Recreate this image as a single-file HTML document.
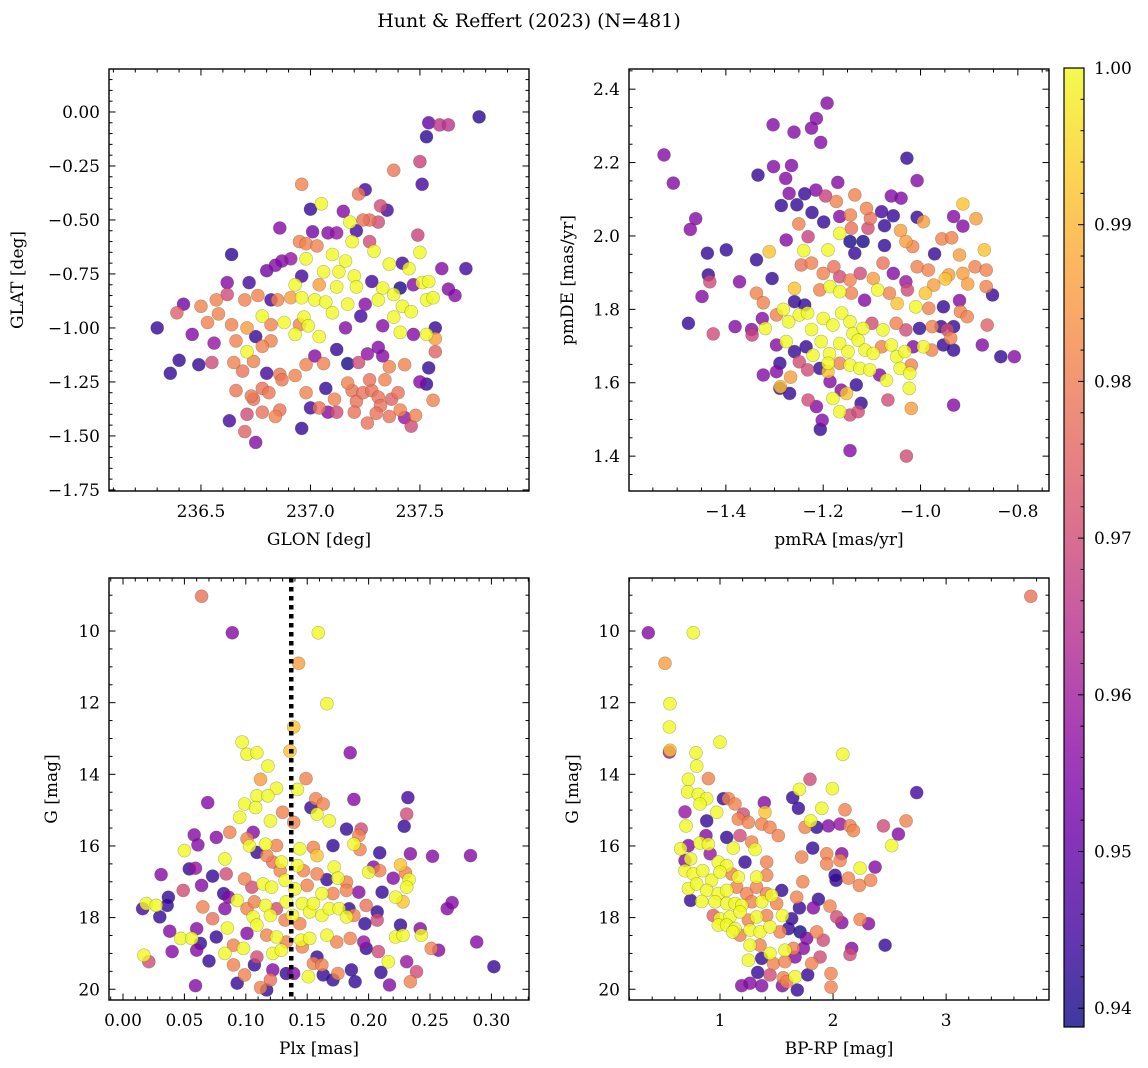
<!DOCTYPE html>
<html><head><meta charset="utf-8">
<style>
html,body{margin:0;padding:0;background:#fff;}
svg{display:block;font-family:"DejaVu Serif","Liberation Serif",serif;}
</style></head>
<body>
<svg id="fig" width="1148" height="1068" viewBox="0 0 1148 1068" xmlns="http://www.w3.org/2000/svg">
<defs>
<linearGradient id="plasma" x1="0" y1="1" x2="0" y2="0">
<stop offset="0" stop-color="#0d0887"/><stop offset="0.1" stop-color="#41049d"/><stop offset="0.2" stop-color="#6a00a8"/><stop offset="0.3" stop-color="#8f0da4"/><stop offset="0.4" stop-color="#b12a90"/><stop offset="0.5" stop-color="#cc4778"/><stop offset="0.6" stop-color="#e16462"/><stop offset="0.7" stop-color="#f2844b"/><stop offset="0.8" stop-color="#fca636"/><stop offset="0.9" stop-color="#fcce25"/><stop offset="1" stop-color="#f0f921"/>
</linearGradient>
</defs>
<text x="529" y="27" font-size="19" text-anchor="middle">Hunt &amp; Reffert (2023) (N=481)</text>
</svg>
<script>
// ---- Panel 1: GLON vs GLAT ----
const glon = [237.77,237.54,237.59,237.63,237.53,237.50,237.51,237.38,236.96,237.25,
237.22,237.05,237.0,237.15,237.32,237.35,237.24,237.27,237.31,237.18,
236.86,237.21,237.01,237.08,237.12,237.19,237.27,237.49,236.95,236.98,
237.03,236.64,236.98,237.1,237.16,237.29,237.5,237.36,237.42,237.45,
237.6,237.71,236.8,236.84,236.87,236.91,237.06,237.13,237.2,236.96,
237.28,236.62,236.72,236.93,237.04,237.12,237.21,237.33,237.41,237.51,
237.54,237.63,237.66,237.47,236.42,236.39,236.5,236.57,236.62,236.7,
236.76,236.82,236.85,236.91,236.96,237.02,237.07,237.17,237.25,237.31,
237.38,237.42,237.46,237.53,237.56,236.3,236.46,236.53,236.58,236.64,
236.71,236.78,236.82,236.88,236.93,236.97,236.99,237.04,237.1,237.16,
237.23,237.33,237.38,237.41,237.47,237.53,237.57,237.57,237.57,236.56,
236.66,236.71,236.75,236.82,236.78,236.95,236.4,236.36,236.49,236.55,
236.65,236.69,236.74,236.8,236.86,236.93,236.98,237.02,237.06,237.12,
237.17,237.22,237.26,237.31,237.33,237.36,237.43,237.54,237.5,237.53,
237.56,236.66,236.73,236.78,236.81,236.87,236.86,236.78,236.74,236.84,
236.71,236.63,236.7,236.75,236.96,236.98,237.0,237.04,237.08,237.07,
237.11,237.12,237.17,237.19,237.21,237.2,237.26,237.24,237.28,237.31,
237.27,237.34,237.32,237.37,237.41,237.3,237.46,237.48,237.43,237.4,237.36];
const glat = [-0.023,-0.05,-0.06,-0.06,-0.115,-0.23,-0.335,-0.27,-0.335,-0.36,
-0.38,-0.425,-0.45,-0.46,-0.435,-0.455,-0.5,-0.5,-0.51,-0.51,
-0.537,-0.55,-0.555,-0.56,-0.56,-0.6,-0.6,-0.57,-0.6,-0.61,
-0.62,-0.66,-0.68,-0.66,-0.69,-0.645,-0.65,-0.705,-0.7,-0.725,
-0.725,-0.725,-0.735,-0.71,-0.69,-0.68,-0.74,-0.74,-0.76,-0.76,
-0.785,-0.79,-0.79,-0.8,-0.8,-0.81,-0.81,-0.815,-0.815,-0.79,
-0.785,-0.82,-0.85,-0.8,-0.89,-0.93,-0.9,-0.87,-0.845,-0.87,
-0.85,-0.87,-0.87,-0.86,-0.86,-0.87,-0.88,-0.89,-0.89,-0.87,
-0.845,-0.9,-0.925,-0.87,-0.86,-1.0,-1.03,-0.975,-0.935,-0.985,
-1.0,-0.945,-0.985,-0.975,-1.03,-0.95,-0.99,-1.04,-0.93,-1.0,
-0.945,-0.99,-0.95,-1.02,-1.03,-1.03,-1.0,-1.05,-1.11,-1.07,
-1.06,-1.11,-1.04,-1.06,-1.085,-0.985,-1.15,-1.21,-1.17,-1.16,
-1.16,-1.2,-1.155,-1.21,-1.215,-1.22,-1.17,-1.13,-1.165,-1.1,
-1.165,-1.16,-1.12,-1.09,-1.13,-1.18,-1.17,-1.185,-1.25,-1.26,
-1.335,-1.29,-1.315,-1.28,-1.3,-1.24,-1.38,-1.39,-1.33,-1.41,
-1.4,-1.43,-1.48,-1.53,-1.465,-1.3,-1.37,-1.37,-1.39,-1.28,
-1.33,-1.39,-1.255,-1.29,-1.34,-1.39,-1.44,-1.3,-1.29,-1.32,
-1.24,-1.24,-1.36,-1.33,-1.38,-1.395,-1.455,-1.405,-1.415,-1.3,-1.41];
const probA = [.942,.95,.965,.965,.942,.968,.945,.979,.981,.945,
.979,1,.943,.955,.97,.945,.978,.977,.97,1,
.955,.945,.952,.955,.958,1,.97,.968,.981,.981,
.981,.942,1,1,1,1,1,1,.945,1,
.955,.945,.952,.955,.955,.958,1,1,1,.945,
.945,.955,.945,1,.986,1,1,1,.94,1,
1,.955,.955,.955,.952,.975,.981,.981,.97,.981,
.981,.945,.981,.986,1,1,1,1,.955,1,
1,1,1,1,1,.943,.955,.981,.981,.981,
.986,1,.981,1,1,1,1,1,1,.955,
.945,.955,1,1,.955,1,.943,.986,.975,.958,
.981,1,.943,.981,.981,.981,.943,.943,.943,.97,
.981,.978,.981,.945,.979,.981,.981,.955,.981,.943,
.94,.97,.957,.955,.955,.981,.981,.943,.955,.943,
.981,.979,.979,.978,.979,.979,.978,.978,.978,.981,
.97,.945,.975,.955,.943,.981,.945,.978,.955,.943,
.981,.97,.981,.978,.978,.978,.978,.978,.978,.978,
.978,.981,.978,.975,.981,.978,.97,.981,.958,.978,.978];

// ---- Panel 2: pmRA vs pmDE ----
const pmra = [-1.192,-1.214,-1.224,-1.26,-1.303,-1.205,-1.028,-1.527,-1.508,-1.302,
-1.265,-1.334,-1.277,-1.27,-1.238,-1.17,-1.007,-1.215,-1.195,-1.286,
-1.254,-1.173,-1.135,-1.111,-1.06,-1.04,-1.223,-0.913,-0.886,-1.462,
-1.473,-1.166,-1.144,-1.103,-1.08,-1.056,-1.007,-0.994,-0.932,-0.913,
-1.25,-1.199,-1.166,-1.142,-1.108,-1.074,-1.041,-1.276,-1.231,-1.145,
-1.118,-1.074,-1.03,-0.956,-0.936,-1.016,-1.438,-1.399,-1.311,-1.337,
-1.24,-1.19,-1.135,-0.971,-0.869,-0.92,-1.436,-1.433,-1.372,-1.305,
-1.449,-1.337,-1.323,-1.245,-1.224,-1.2,-1.178,-1.166,-1.145,-1.124,
-1.097,-1.077,-1.056,-1.03,-1.007,-0.984,-0.942,-0.913,-0.888,-0.865,
-0.903,-0.865,-0.949,-0.973,-0.99,-0.852,-0.92,-1.259,-1.259,-1.238,
-1.207,-1.186,-1.166,-1.142,-1.115,-1.088,-1.064,-1.048,-1.027,-1.01,
-0.983,-0.953,-0.918,-0.904,-0.863,-1.477,-1.426,-1.381,-1.347,-1.346,
-1.325,-1.319,-1.296,-1.282,-1.271,-1.249,-1.232,-1.224,-1.2,-1.18,
-1.162,-1.145,-1.139,-1.118,-1.1,-1.077,-1.05,-1.03,-1.002,-0.976,
-0.958,-0.932,-0.945,-0.938,-0.873,-0.835,-0.807,-1.276,-1.296,-1.259,
-1.235,-1.221,-1.204,-1.187,-1.166,-1.149,-1.128,-1.114,-1.097,-1.08,
-1.06,-1.049,-1.032,-1.015,-0.994,-0.977,-0.953,-0.932,-1.289,-1.296,
-1.323,-1.249,-1.232,-1.207,-1.19,-1.19,-1.166,-1.145,-1.125,-1.104,
-1.084,-1.07,-1.042,-1.022,-1.019,-1.023,-1.289,-1.288,-1.269,-1.267,
-1.186,-1.163,-1.152,-1.132,-1.231,-1.214,-1.18,-1.122,-1.145,-1.166,
-1.128,-1.067,-1.019,-0.932,-1.202,-1.206,-1.145,-1.029];
const pmde = [2.362,2.32,2.294,2.283,2.303,2.255,2.212,2.221,2.144,2.189,
2.192,2.166,2.157,2.116,2.115,2.146,2.151,2.125,2.109,2.083,
2.085,2.094,2.112,2.075,2.109,2.103,2.064,2.087,2.047,2.047,
2.018,2.053,2.057,2.048,2.066,2.055,2.051,2.039,2.053,2.027,
2.033,2.038,2.007,2.021,2.021,2.028,2.015,1.989,1.998,1.985,
1.985,1.974,1.985,1.992,1.995,1.971,1.953,1.962,1.957,1.935,
1.96,1.962,1.953,1.951,1.962,1.948,1.894,1.875,1.875,1.884,
1.835,1.844,1.818,1.921,1.926,1.898,1.916,1.889,1.88,1.898,
1.884,1.926,1.898,1.875,1.916,1.907,1.894,1.898,1.916,1.907,
1.869,1.862,1.883,1.866,1.844,1.839,1.824,1.857,1.821,1.812,
1.853,1.862,1.848,1.844,1.825,1.853,1.844,1.816,1.853,1.807,
1.803,1.807,1.794,1.78,1.757,1.762,1.733,1.753,1.745,1.73,
1.775,1.748,1.785,1.8,1.766,1.785,1.79,1.745,1.775,1.757,
1.79,1.766,1.734,1.748,1.762,1.744,1.762,1.744,1.748,1.753,
1.753,1.753,1.744,1.721,1.703,1.671,1.671,1.712,1.703,1.685,
1.698,1.675,1.712,1.679,1.707,1.685,1.716,1.689,1.68,1.698,
1.703,1.671,1.685,1.698,1.698,1.689,1.703,1.689,1.653,1.63,
1.621,1.657,1.635,1.639,1.653,1.63,1.653,1.648,1.639,1.635,
1.621,1.607,1.639,1.626,1.648,1.585,1.585,1.589,1.571,1.615,
1.603,1.58,1.571,1.594,1.553,1.535,1.557,1.544,1.512,1.521,
1.521,1.553,1.53,1.539,1.498,1.473,1.415,1.4];
const probB = [.955,.955,.955,.955,.955,.955,.943,.955,.955,.955,
.955,.943,.955,.955,.943,.955,.955,.955,.968,.943,
.943,.981,.981,.981,.955,.955,.943,.992,.986,.955,
.955,.955,.981,.978,.945,.943,.943,.986,.955,.955,
.981,.943,1,.978,.97,.943,.986,.955,.968,.94,
.94,.943,.986,.981,.981,.981,.943,.943,.992,.943,
1,1,.943,.943,.992,.986,.943,.97,.955,.943,
.955,.981,.981,.978,.981,.981,.978,.97,.981,.97,
.986,.978,.955,.958,.981,.981,.986,.986,.981,.981,
.986,.981,.992,.986,.992,.943,.955,.992,.943,.943,
.981,1,1,.981,.955,1,.981,.992,.97,1,
.981,.943,.981,.981,.975,.943,.97,.955,.955,.968,
.955,1,.981,1,1,1,1,1,1,1,
1,1,1,1,.97,1,.981,.97,.943,.981,
.943,.943,.97,.981,.955,.943,.955,1,.955,.943,
.943,1,1,1,1,1,1,1,1,.981,
1,1,1,.955,1,.981,.943,.943,.943,.955,
.955,.97,.97,.943,1,.992,.981,1,1,1,
.955,1,1,1,.981,1,.943,.992,.943,.986,
.955,.955,.992,.943,.97,.955,1,.943,.97,1,
.97,.97,.986,.955,.955,.943,.955,.97];

// ---- Panel 3: Plx vs G ----
const plx = [0.064,0.089,0.159,0.143,0.166,0.139,0.097,0.101,0.109,0.136,
0.185,0.118,0.112,0.149,0.069,0.125,0.142,0.109,0.118,0.099,
0.108,0.157,0.188,0.232,0.153,0.163,0.13,0.158,0.095,0.12,
0.139,0.168,0.231,0.182,0.194,0.229,0.087,0.106,0.076,0.058,
0.192,0.05,0.061,0.101,0.103,0.116,0.125,0.144,0.155,0.171,
0.188,0.193,0.209,0.234,0.252,0.283,0.031,0.054,0.059,0.073,
0.083,0.084,0.109,0.117,0.122,0.129,0.128,0.142,0.147,0.158,
0.158,0.172,0.166,0.175,0.182,0.2,0.204,0.209,0.22,0.226,
0.23,0.233,0.231,0.064,0.049,0.099,0.105,0.114,0.121,0.132,
0.14,0.15,0.162,0.171,0.182,0.192,0.211,0.222,0.228,0.037,
0.019,0.027,0.016,0.036,0.03,0.082,0.086,0.093,0.083,0.065,
0.073,0.101,0.107,0.116,0.125,0.133,0.146,0.152,0.155,0.162,
0.168,0.176,0.184,0.188,0.198,0.207,0.264,0.268,0.106,0.12,
0.132,0.138,0.144,0.182,0.197,0.207,0.226,0.242,0.038,0.047,
0.056,0.063,0.06,0.076,0.085,0.09,0.101,0.109,0.117,0.125,
0.133,0.145,0.152,0.166,0.174,0.185,0.196,0.198,0.208,0.222,
0.228,0.243,0.251,0.257,0.288,0.017,0.021,0.04,0.06,0.07,
0.083,0.098,0.109,0.122,0.129,0.146,0.158,0.155,0.162,0.186,
0.175,0.21,0.216,0.231,0.239,0.302,0.09,0.107,0.099,0.122,
0.133,0.139,0.151,0.163,0.171,0.189,0.217,0.234,0.059,0.093,
0.112,0.12,0.117];
const gmagC = [9.03,10.05,10.05,10.9,12.03,12.68,13.1,13.44,13.4,13.35,
13.4,13.77,14.14,14.12,14.79,14.39,14.42,14.6,14.6,14.83,
14.93,14.68,14.7,14.65,14.93,14.83,15.06,15.11,15.2,15.3,
15.34,15.3,15.11,15.53,15.53,15.45,15.62,15.62,15.76,15.69,
15.71,16.13,15.97,15.8,16.0,15.95,15.99,16.08,16.04,15.99,
15.95,16.1,16.19,16.22,16.29,16.27,16.8,16.64,16.62,16.84,
16.36,16.78,16.18,16.27,16.45,16.45,16.69,16.55,16.69,16.27,
16.78,16.59,16.94,16.9,17.01,16.73,16.59,16.69,16.9,16.53,
16.75,16.94,17.15,17.1,17.24,16.92,17.15,17.06,17.15,16.96,
17.2,17.1,17.33,17.33,17.24,17.29,17.29,17.43,17.56,17.43,
17.61,17.66,17.75,17.66,17.98,17.33,17.43,17.52,17.75,17.7,
18.03,17.75,17.56,17.66,17.75,17.56,17.61,17.84,17.61,17.94,
17.75,17.75,17.75,17.94,17.66,17.84,17.75,17.58,17.98,17.94,
18.07,17.94,18.17,17.98,18.17,18.07,18.21,18.31,18.38,18.58,
18.58,18.72,18.31,18.54,18.29,18.77,18.44,18.21,18.49,18.54,
18.68,18.63,18.58,18.49,18.68,18.58,18.68,18.86,18.95,18.54,
18.49,18.49,18.86,18.91,18.68,19.05,19.23,18.95,18.91,19.21,
19.0,18.86,19.1,19.0,18.91,18.82,19.1,19.28,19.32,19.46,
19.56,19.53,19.23,19.23,19.51,19.37,19.32,19.32,19.6,19.46,
19.56,19.56,19.65,19.6,19.74,19.79,19.88,19.79,19.9,19.83,
19.95,19.74,20.02];
const probC = [.978,.955,1,.986,1,.992,1,1,1,.992,
.955,1,.986,.981,.955,1,1,1,1,1,
1,.981,.955,.945,.943,.981,.981,1,1,1,
.981,1,.97,.943,.97,.943,.981,.955,.955,.955,
.981,1,.955,.981,1,1,.981,1,.981,.943,
1,.981,.943,.955,.955,.955,.955,.943,.958,.943,
1,.97,.943,.981,.978,1,.981,1,.981,.992,
.981,1,.943,1,.981,1,.955,.981,.955,.992,
.981,1,1,.955,.97,.981,.97,1,1,1,
1,.981,1,.981,.981,.955,.943,1,.992,.943,
1,1,.945,.943,.943,.943,.955,1,.955,.981,
.978,.981,.981,1,.97,1,1,1,1,1,
1,1,.943,.981,.978,.943,.955,.955,1,1,
.981,1,.981,1,.943,.97,.943,.955,.955,1,
1,.943,.955,.943,1,.981,.955,1,.981,1,
.981,1,1,1,.981,.981,.958,.943,.97,1,
1,1,.981,.955,.955,1,.97,.955,.955,.943,
1,1,.97,1,1,.981,.943,.981,.981,.943,
.981,.943,1,.958,.97,.943,.981,.943,.981,.955,
.943,.955,1,.943,.943,.943,.955,.981,.955,.943,
.981,.978,.943];
const plxLine = [0.137];

// ---- Panel 4: BP-RP vs G ----
const bprp = [3.749,0.366,0.764,0.513,0.558,0.552,0.552,0.558,1.0,2.086,
0.788,0.794,0.72,0.897,1.796,0.714,0.808,0.882,1.702,1.994,
2.74,1.03,1.074,1.133,1.392,1.643,1.693,1.9,2.106,0.69,
0.823,0.971,1.206,1.398,0.699,0.882,1.162,1.251,1.369,1.442,
1.516,1.752,1.802,1.855,1.959,2.062,2.15,2.18,2.445,2.578,
2.646,2.519,0.652,0.72,0.823,0.897,0.876,1.059,1.118,1.177,
1.28,1.31,0.74,0.69,0.912,0.985,1.059,1.221,1.413,1.723,
1.82,1.944,2.077,1.944,2.062,2.239,2.372,0.69,0.764,0.847,
0.926,1.0,1.103,1.162,1.324,1.413,1.732,2.018,2.027,2.136,
2.233,2.333,0.72,0.794,0.882,0.985,1.059,1.147,1.236,1.324,
1.413,1.546,0.74,0.838,0.956,1.059,1.133,1.192,1.28,1.369,
1.457,1.501,1.678,1.702,1.87,1.826,1.973,0.941,1.0,1.088,
1.177,1.251,1.324,1.413,1.552,1.634,2.032,2.077,2.239,2.313,
0.985,1.059,1.133,1.177,1.265,1.354,1.442,1.531,1.605,1.708,
1.767,1.855,1.914,1.112,1.265,1.354,1.442,1.575,1.649,1.738,
1.251,1.369,1.472,1.575,1.664,1.811,1.885,2.165,2.15,2.46,
1.333,1.442,1.56,1.664,1.776,1.982,1.192,1.265,1.369,1.552,
1.59,1.684,1.982];
const gmagD = [9.03,10.05,10.05,10.9,12.03,12.68,13.38,13.33,13.1,13.44,
13.4,13.77,14.14,14.12,14.14,14.49,14.56,14.68,14.42,14.4,
14.51,14.68,14.68,14.83,14.79,14.65,14.95,14.95,14.99,15.05,
14.83,15.06,15.11,15.06,15.44,15.3,15.25,15.34,15.39,15.48,
15.71,15.48,15.3,15.48,15.44,15.39,15.44,15.57,15.44,15.67,
15.3,15.99,16.08,15.99,15.92,15.95,15.71,15.76,16.06,15.71,
15.89,16.1,16.36,16.41,16.22,16.45,16.55,16.45,16.45,16.31,
16.06,16.22,16.22,16.5,16.41,16.62,16.59,16.69,16.78,16.69,
16.96,16.73,16.78,16.87,16.87,16.82,17.0,16.82,16.96,16.9,
17.1,16.96,17.19,17.06,17.24,17.33,17.24,17.15,17.33,17.15,
17.33,17.24,17.52,17.55,17.56,17.61,17.61,17.66,17.56,17.56,
17.38,17.61,17.43,17.73,17.49,17.73,17.68,17.94,18.03,17.98,
17.84,18.07,17.98,17.94,17.94,18.03,17.98,18.14,18.05,18.17,
18.21,18.21,18.31,18.49,18.35,18.4,18.26,18.4,18.31,18.4,
18.58,18.4,18.63,18.4,18.77,18.77,19.0,18.91,18.86,18.86,
19.19,19.14,19.28,19.23,19.1,19.28,19.1,18.86,19.03,18.77,
19.53,19.6,19.68,19.65,19.6,19.56,19.9,19.83,19.9,19.9,
19.79,20.02,19.94];
const probD = [.978,.955,1,.986,1,1,.958,.992,1,1,
1,1,1,.981,.97,1,1,1,1,1,
.945,.943,.981,.981,.955,.943,.943,1,.981,.958,
1,1,.97,.992,1,.943,.981,.981,.981,.981,
.981,.981,1,.943,.955,.958,.981,.981,.97,.955,
.981,1,1,.955,1,1,.955,.943,1,.97,
.981,1,1,.955,.958,1,1,.943,.981,.981,
.943,.981,.955,.981,.981,1,.955,1,1,1,
1,1,.981,1,1,.981,.981,.943,.943,.981,
.981,.981,1,1,1,1,1,.981,.981,.981,
.981,.943,.943,1,1,1,1,1,.981,1,
1,.981,.981,.943,.943,.955,.981,.975,1,1,
1,.981,1,.981,1,.943,.97,.955,.981,.955,
1,1,1,.981,1,1,1,.981,.943,.94,
.955,.981,.97,1,1,.981,1,1,.981,.955,
1,.943,.981,.981,.955,.981,.97,.955,.97,.943,
.943,.97,.981,1,.943,.981,.955,.955,.955,.955,
.981,.943,.981];

// ---- Colorbar ----
const cbTicks = [0.94,0.95,0.96,0.97,0.98,0.99,1.00];
const cbLabels = ["0.94","0.95","0.96","0.97","0.98","0.99","1.00"];
const cRange = [0.9388, 1.0];

// ---- Axis tick labels ----
const ticksA_x = [236.5,237.0,237.5];
const ticksA_y = [0,-0.25,-0.5,-0.75,-1.0,-1.25,-1.5,-1.75];
const ticksB_x = [-1.4,-1.2,-1.0,-0.8];
const ticksB_y = [1.4,1.6,1.8,2.0,2.2,2.4];
const ticksC_x = [0,0.05,0.1,0.15,0.2,0.25,0.3];
const ticksG = [10,12,14,16,18,20];
const ticksD_x = [1,2,3];

const NS = "http://www.w3.org/2000/svg";
const svg = document.getElementById("fig");
function mk(tag, attrs, parent) {
  const e = document.createElementNS(NS, tag);
  for (const k in attrs) e.setAttribute(k, attrs[k]);
  (parent || svg).appendChild(e);
  return e;
}
const stops = [[0,[13,8,135]],[0.1,[65,4,157]],[0.2,[106,0,168]],[0.3,[143,13,164]],[0.4,[177,42,144]],[0.5,[204,71,120]],[0.6,[225,100,98]],[0.7,[242,132,75]],[0.8,[252,166,54]],[0.9,[252,206,37]],[1,[240,249,33]]];
function plasma(v) {
  let t = (v - cRange[0]) / (cRange[1] - cRange[0]);
  t = Math.max(0, Math.min(1, t));
  for (let i = 1; i < stops.length; i++) {
    if (t <= stops[i][0]) {
      const a = stops[i-1], b = stops[i];
      const f = (t - a[0]) / (b[0] - a[0]);
      const c = a[1].map((x, j) => Math.round(x + f * (b[1][j] - x)));
      return "rgb(" + c.join(",") + ")";
    }
  }
  return "rgb(240,249,33)";
}
function fmt(v, d) {
  const s = Math.abs(v).toFixed(d);
  return (v < -1e-9 ? "\u2212" : "") + s;
}
const FS = 17;

function panel(cfg) {
  const [x0, y0, x1, y1] = cfg.box;
  const g = mk("g", {});
  
  
  const sx = v => x0 + (v - cfg.xr[0]) / (cfg.xr[1] - cfg.xr[0]) * (x1 - x0);
  const sy = v => y1 - (v - cfg.yr[0]) / (cfg.yr[1] - cfg.yr[0]) * (y1 - y0);
  const clip = mk("clipPath", {id: "clip-" + cfg.name}, g);
  mk("rect", {x: x0, y: y0, width: x1 - x0, height: y1 - y0}, clip);
  const pts = mk("g", {"clip-path": "url(#clip-" + cfg.name + ")"}, g);
  
  
  const n = Math.min(cfg.xs.length, cfg.ys.length, cfg.cs.length);
  const idx = [];
  for (let i = 0; i < n; i++) idx.push(i);
  idx.sort((a, b) => cfg.cs[a] - cfg.cs[b]);
  for (const i of idx) {
    const c = mk("circle", {cx: sx(cfg.xs[i]).toFixed(1), cy: sy(cfg.ys[i]).toFixed(1), r: 6.5, fill: plasma(cfg.cs[i]), "fill-opacity": 0.8, stroke: "rgba(60,60,40,0.35)", "stroke-width": 0.6}, pts);
    
    
  }
  if (cfg.vline) {
    for (const v of cfg.vline) {
      const l = mk("line", {x1: sx(v), x2: sx(v), y1: y0, y2: y1, stroke: "#000", "stroke-width": 4.5, "stroke-dasharray": "4.5 4.5"}, g);
      
      
    }
  }
  const tk = mk("g", {stroke: "#000", "stroke-width": 1}, g);
  
  
  const lo = Math.min(cfg.xr[0], cfg.xr[1]), hi = Math.max(cfg.xr[0], cfg.xr[1]);
  for (let k = Math.ceil(lo / cfg.xminor - 1e-6); k * cfg.xminor <= hi + 1e-9; k++) {
    const v = k * cfg.xminor, X = sx(v);
    const major = Math.abs(Math.round(v / cfg.xmajor) * cfg.xmajor - v) < cfg.xminor / 10;
    const L = major ? 6.5 : 3.5;
    mk("line", {x1: X, x2: X, y1: y1, y2: y1 - L}, tk);
    mk("line", {x1: X, x2: X, y1: y0, y2: y0 + L}, tk);
  }
  const ylo = Math.min(cfg.yr[0], cfg.yr[1]), yhi = Math.max(cfg.yr[0], cfg.yr[1]);
  for (let k = Math.ceil(ylo / cfg.yminor - 1e-6); k * cfg.yminor <= yhi + 1e-9; k++) {
    const v = k * cfg.yminor, Y = sy(v);
    const major = Math.abs(Math.round(v / cfg.ymajor) * cfg.ymajor - v) < cfg.yminor / 10;
    const L = major ? 6.5 : 3.5;
    mk("line", {x1: x0, x2: x0 + L, y1: Y, y2: Y}, tk);
    mk("line", {x1: x1, x2: x1 - L, y1: Y, y2: Y}, tk);
  }
  mk("rect", {x: x0, y: y0, width: x1 - x0, height: y1 - y0, fill: "none", stroke: "#000", "stroke-width": 1.4}, g);
  for (const v of cfg.xt) {
    const t = mk("text", {x: sx(v), y: y1 + 26, "font-size": FS, "text-anchor": "middle"}, g);
    t.textContent = fmt(v, cfg.xd);
    
    
  }
  for (const v of cfg.yt) {
    const t = mk("text", {x: x0 - 9, y: sy(v) + 6, "font-size": FS, "text-anchor": "end"}, g);
    t.textContent = fmt(v, cfg.yd);
    
    
  }
  const xl = mk("text", {x: (x0 + x1) / 2, y: y1 + 54, "font-size": FS, "text-anchor": "middle"}, g);
  xl.textContent = cfg.xlabel;
  
  
  const yl = mk("text", {x: 0, y: 0, "font-size": FS, "text-anchor": "middle", transform: "translate(" + cfg.ylx + "," + (y0 + y1) / 2 + ") rotate(-90)"}, g);
  yl.textContent = cfg.ylabel;
  
  
}

panel({name: "glon-glat-panel", box: [109, 69, 529, 491], xr: [236.08, 237.998], yr: [-1.755, 0.199], xs: glon, ys: glat, cs: probA,
  xt: ticksA_x, yt: ticksA_y, xd: 1, yd: 2, xminor: 0.1, xmajor: 0.5, yminor: 0.05, ymajor: 0.25, xlabel: "GLON [deg]", ylabel: "GLAT [deg]", ylx: 23});
panel({name: "proper-motion-panel", box: [629, 69, 1049, 491], xr: [-1.599, -0.736], yr: [1.305, 2.455], xs: pmra, ys: pmde, cs: probB,
  xt: ticksB_x, yt: ticksB_y, xd: 1, yd: 1, xminor: 0.05, xmajor: 0.2, yminor: 0.05, ymajor: 0.2, xlabel: "pmRA [mas/yr]", ylabel: "pmDE [mas/yr]", ylx: 573});
panel({name: "parallax-mag-panel", box: [109, 578, 529, 1000], xr: [-0.0114, 0.3306], yr: [20.3, 8.52], xs: plx, ys: gmagC, cs: probC, vline: plxLine,
  xt: ticksC_x, yt: ticksG, xd: 2, yd: 0, xminor: 0.01, xmajor: 0.05, yminor: 0.5, ymajor: 2, xlabel: "Plx [mas]", ylabel: "G [mag]", ylx: 57});
panel({name: "cmd-panel", box: [629, 578, 1049, 1000], xr: [0.195, 3.91], yr: [20.3, 8.52], xs: bprp, ys: gmagD, cs: probD,
  xt: ticksD_x, yt: ticksG, xd: 0, yd: 0, xminor: 0.2, xmajor: 1, yminor: 0.5, ymajor: 2, xlabel: "BP-RP [mag]", ylabel: "G [mag]", ylx: 578});

(function () {
  const x0 = 1064, x1 = 1084, y0 = 68, y1 = 1027;
  const g = mk("g", {});
  
  
  const sc = v => y1 - (v - cRange[0]) / (cRange[1] - cRange[0]) * (y1 - y0);
  mk("rect", {x: x0, y: y0, width: x1 - x0, height: y1 - y0, fill: "url(#plasma)", "fill-opacity": 0.8}, g);
  const tk = mk("g", {stroke: "#000", "stroke-width": 1}, g);
  for (let k = Math.ceil(cRange[0] / 0.002); k * 0.002 <= cRange[1] + 1e-9; k++) {
    const v = k * 0.002, Y = sc(v);
    const major = cbTicks.some(t => Math.abs(t - v) < 1e-6);
    mk("line", {x1: x1, x2: x1 - (major ? 6 : 3.5), y1: Y, y2: Y}, tk);
  }
  mk("rect", {x: x0, y: y0, width: x1 - x0, height: y1 - y0, fill: "none", stroke: "#000", "stroke-width": 1.2}, g);
  cbTicks.forEach((v, i) => {
    const t = mk("text", {x: x1 + 10, y: sc(v) + 6, "font-size": FS}, g);
    t.textContent = cbLabels[i];
    
    
  });
})();
</script>
</body></html>
